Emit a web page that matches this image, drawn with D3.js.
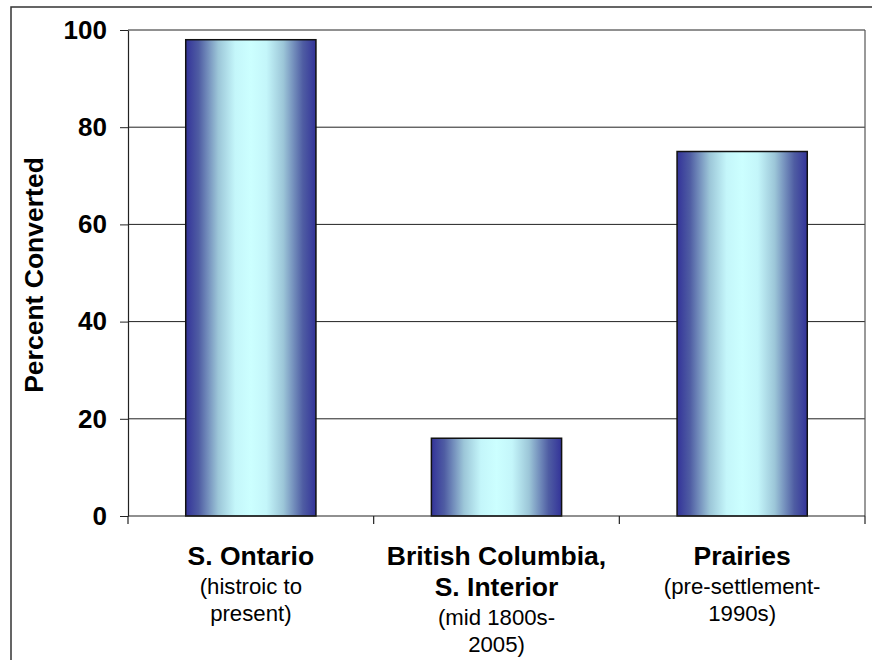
<!DOCTYPE html>
<html>
<head>
<meta charset="utf-8">
<script src="https://cdn.jsdelivr.net/npm/d3@7"></script>
<style>
  html, body { margin: 0; padding: 0; background: #fff; }
  svg { display: block; font-family: "Liberation Sans", Arial, sans-serif; }
</style>
</head>
<body>
<svg id="chart" width="872" height="660"></svg>
<script>
// Share of native habitat converted, by region
const categories = ["S. Ontario", "British Columbia, S. Interior", "Prairies"];
const values = [98, 16, 75];
const titleLines = [["S. Ontario"], ["British Columbia,", "S. Interior"], ["Prairies"]];
const periodLines = [["(histroic to", "present)"], ["(mid 1800s-", "2005)"], ["(pre-settlement-", "1990s)"]];
const yTicks = [0, 20, 40, 60, 80, 100];
const yLabel = "Percent Converted";

const svg = d3.select("#chart");
const plot = { left: 128, right: 865, top: 30, bottom: 516 };
const boldSize = 26.5, regularSize = 22.2;

// Gradient used for every bar: navy edges, pale cyan core
const defs = svg.append("defs");
const grad = defs.append("linearGradient").attr("id", "barFill")
  .attr("x1", "0%").attr("x2", "100%").attr("y1", "0%").attr("y2", "0%");
[[0, "#333399"], [0.1, "#4f5da3"], [0.25, "#9cc6d8"], [0.38, "#c4f6fa"], [0.5, "#ccffff"],
 [0.62, "#c4f6fa"], [0.75, "#9cc6d8"], [0.9, "#4f5da3"], [1, "#333399"]]
  .forEach(([o, c]) => grad.append("stop").attr("offset", o).attr("stop-color", c));

// Outer chart frame (runs off the right and bottom edges)
svg.append("path")
  .attr("d", "M11,700 L11,7 L900,7")
  .attr("fill", "none").attr("stroke", "#333").attr("stroke-width", 1.5);

const x = d3.scaleBand().domain(categories)
  .range([plot.left, plot.right]).paddingInner(0.47).paddingOuter(0.235);
const y = d3.scaleLinear().domain([0, 100]).range([plot.bottom, plot.top]);

// Horizontal gridlines
svg.append("g").selectAll("line")
  .data(yTicks.filter(t => t > 0))
  .join("line")
  .attr("x1", plot.left).attr("x2", plot.right)
  .attr("y1", d => y(d)).attr("y2", d => y(d))
  .attr("stroke", "#222").attr("stroke-width", 1);

// Plot-area right border
svg.append("line")
  .attr("x1", plot.right).attr("x2", plot.right)
  .attr("y1", plot.top).attr("y2", plot.bottom)
  .attr("stroke", "#555").attr("stroke-width", 1.2);

// Bars
svg.append("g").selectAll("rect")
  .data(values)
  .join("rect")
  .attr("x", (d, i) => x(categories[i]))
  .attr("width", x.bandwidth())
  .attr("y", d => y(d))
  .attr("height", d => y(0) - y(d))
  .attr("fill", "url(#barFill)")
  .attr("stroke", "#111").attr("stroke-width", 1.5);

// Y axis
const yAxis = svg.append("g")
  .attr("transform", `translate(${plot.left},0)`)
  .call(d3.axisLeft(y).tickValues(yTicks).tickSize(8).tickPadding(13).tickSizeOuter(0));
yAxis.select(".domain").attr("stroke", "#222").attr("stroke-width", 1.2);
yAxis.selectAll(".tick line").attr("stroke", "#222");
yAxis.selectAll(".tick text")
  .attr("fill", "#000").attr("font-size", 26).attr("font-weight", "bold")
  .attr("font-family", "'Liberation Sans', Arial, sans-serif");

// X axis baseline with category boundary ticks
const boundaries = d3.range(categories.length + 1).map(i => plot.left + i * x.step());
svg.append("line")
  .attr("x1", plot.left).attr("x2", plot.right)
  .attr("y1", plot.bottom).attr("y2", plot.bottom)
  .attr("stroke", "#222").attr("stroke-width", 1.2);
svg.append("g").selectAll("line")
  .data(boundaries)
  .join("line")
  .attr("x1", d => d).attr("x2", d => d)
  .attr("y1", plot.bottom).attr("y2", plot.bottom + 8)
  .attr("stroke", "#222").attr("stroke-width", 1.2);

// Category labels: bold region name, then the period in regular type
const labels = svg.append("g").attr("text-anchor", "middle");
categories.forEach((c, i) => {
  const cx = x(c) + x.bandwidth() / 2;
  let yy = 565;
  titleLines[i].forEach((t, k) => {
    if (k > 0) yy += 31;
    labels.append("text").attr("x", cx).attr("y", yy)
      .attr("font-size", boldSize).attr("font-weight", "bold").text(t);
  });
  periodLines[i].forEach((t, k) => {
    yy += k === 0 ? 28.5 : 27;
    labels.append("text").attr("x", cx).attr("y", yy)
      .attr("font-size", regularSize).text(t);
  });
});

// Y axis title
svg.append("text")
  .attr("transform", `translate(43,${(plot.top + plot.bottom) / 2 + 2}) rotate(-90)`)
  .attr("text-anchor", "middle")
  .attr("font-size", boldSize).attr("font-weight", "bold")
  .text(yLabel);
</script>
</body>
</html>
